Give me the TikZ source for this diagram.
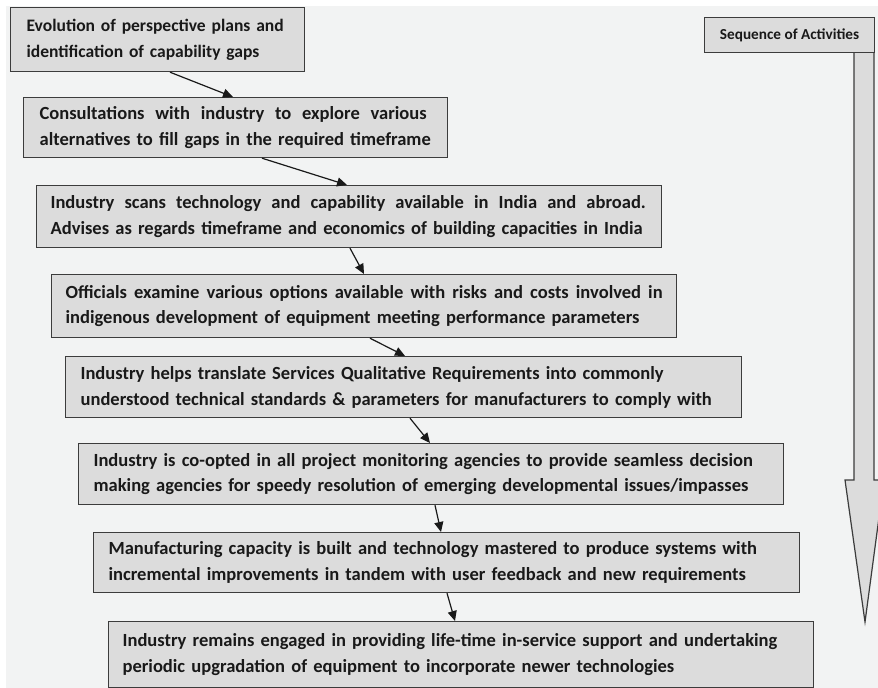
\documentclass[tikz,border=0pt]{standalone}
\usepackage{fontspec}
\setmainfont{Carlito}
\usetikzlibrary{arrows.meta, calc}
\usepackage{xcolor}

\definecolor{bgcol}{RGB}{242,243,243}
\definecolor{boxfill}{RGB}{220,220,220}
\definecolor{boxline}{RGB}{60,60,60}
\definecolor{textcol}{RGB}{25,25,25}

\newcommand\stagefont{\fontsize{18.6}{26}\selectfont\bfseries}
\newcommand\stretchline[2]{\hbox to #1{\spaceskip=0.23em plus 3em\relax #2}}

\tikzset{
	stage/.style={draw=boxline, line width=1.2bp, fill=boxfill, anchor=north west,
		inner xsep=15bp, inner ysep=0pt, align=left, font=\stagefont, text=textcol},
	flow/.style={draw=textcol, line width=1.2bp, -{Triangle[length=10bp,width=9bp]}},
	seqbox/.style={draw=boxline, line width=1.2bp, fill=boxfill, anchor=north west,
		minimum width=170bp, minimum height=35bp, inner sep=0pt,
		font=\fontsize{15.3}{17}\selectfont\bfseries, text=textcol}
}

\begin{document}
\begin{tikzpicture}[x=1bp, y=-1bp]
	\useasboundingbox (0,0) rectangle (878,688);
	\fill[white] (0,0) rectangle (878,688);
	\fill[bgcol] (6,6) rectangle (878,688);

	% stages
	\node[stage, font=\fontsize{17.6}{26}\selectfont\bfseries, inner xsep=16bp,
		text width=262bp, minimum height=64bp] (b1) at (10,7)
		{Evolution of perspective plans and\\identification of capability gaps};
	\node[stage, inner xsep=16bp, text width=392bp, minimum height=60bp] (b2) at (23,97)
		{\stretchline{387bp}{Consultations with industry to explore various}\\alternatives to fill gaps in the required timeframe};
	\node[stage, inner xsep=14bp, text width=597bp, minimum height=62bp] (b3) at (36,185)
		{\stretchline{595bp}{Industry scans technology and capability available in India and abroad.}\\Advises as regards timeframe and economics of building capacities in India};
	\node[stage, inner xsep=14bp, text width=597bp, minimum height=63bp] (b4) at (51,274)
		{\stretchline{597bp}{Officials examine various options available with risks and costs involved in}\\indigenous development of equipment meeting performance parameters};
	\node[stage, text width=646bp, minimum height=61bp] (b5) at (65,356)
		{Industry helps translate Services Qualitative Requirements into commonly\\understood technical standards \& parameters for manufacturers to comply with};
	\node[stage, text width=675bp, minimum height=61bp] (b6) at (78,443)
		{Industry is co-opted in all project monitoring agencies to provide seamless decision\\making agencies for speedy resolution of emerging developmental issues/impasses};
	\node[stage, text width=676bp, minimum height=60bp] (b7) at (93,532)
		{Manufacturing capacity is built and technology mastered to produce systems with\\incremental improvements in tandem with user feedback and new requirements};
	\node[stage, inner xsep=14bp, text width=677bp, minimum height=66bp] (b8) at (108,621)
		{Industry remains engaged in providing life-time in-service support and undertaking\\periodic upgradation of equipment to incorporate newer technologies};

	% links
	\draw[flow] ([xshift=160bp]b1.south west) -- ([xshift=210bp]b2.north west);
	\draw[flow] ([xshift=239bp]b2.south west) -- ([xshift=311bp]b3.north west);
	\draw[flow] ([xshift=314bp]b3.south west) -- ([xshift=313bp]b4.north west);
	\draw[flow] ([xshift=319bp]b4.south west) -- ([xshift=340bp]b5.north west);
	\draw[flow] ([xshift=345bp]b5.south west) -- ([xshift=352bp]b6.north west);
	\draw[flow] ([xshift=357bp]b6.south west) -- ([xshift=348bp]b7.north west);
	\draw[flow] ([xshift=354bp]b7.south west) -- ([xshift=347bp]b8.north west);

	% sequence arrow
	\draw[boxline, line width=1.2bp, fill=boxfill, line join=miter]
		(854,52) -- (854,480) -- (845,480) -- (865,622) -- (884,480) -- (874,480) -- (874,52);
	\node[seqbox] (seq) at (704,17) {Sequence of Activities};
\end{tikzpicture}
\end{document}
